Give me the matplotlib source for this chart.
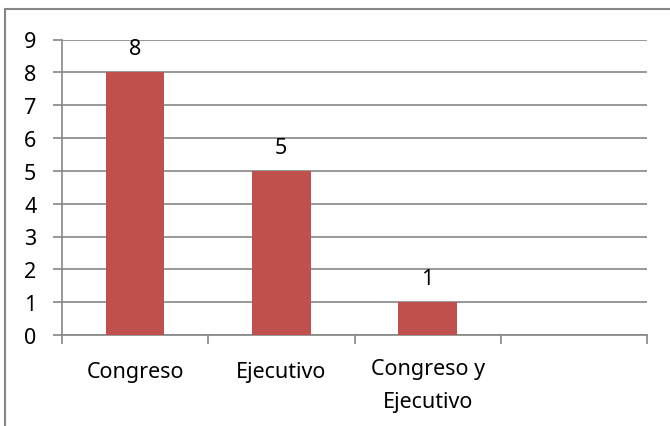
import numpy as np
import matplotlib
matplotlib.use('Agg')
import matplotlib.pyplot as plt
from matplotlib.patches import Rectangle

plt.rcParams['font.family'] = ['Noto Sans', 'DejaVu Sans']

categories = ['Congreso', 'Ejecutivo', 'Congreso y\nEjecutivo', '']
values = [8, 5, 1]
yticks = list(range(0, 10))

bar_color = '#C0504D'
grid_color = '#868686'

fig = plt.figure(figsize=(6.70, 4.27), dpi=100)
ax = fig.add_axes([62/670, 1 - 336/427, 585/670, (336 - 40.5)/427])

# outer chart border (cropped on right and bottom in the original)
fig.patches.append(Rectangle((5/670, -0.1), 1.2, 1.1 - 10/427, transform=fig.transFigure,
                             fill=False, edgecolor=grid_color, linewidth=1.5, zorder=0))

x = np.arange(len(values))
ax.bar(x, values, width=0.4, color=bar_color, zorder=3)
for xi, v in zip(x, values):
    ax.annotate(str(v), (xi, v), xytext=(0, 13), textcoords='offset points',
                ha='center', va='baseline', fontsize=15.5)

ax.set_xlim(-0.5, len(categories) - 0.5)
ax.set_ylim(0, 9)
ax.set_yticks(yticks)
ax.yaxis.grid(True, color=grid_color, linewidth=1.2, zorder=0)
ax.set_axisbelow(True)

# category labels centred between boundary ticks
ax.set_xticks(np.arange(len(categories) + 1) - 0.5)
ax.set_xticklabels([])
for xi, lab in enumerate(categories):
    lines = lab.split('\n')
    if len(lines) == 1:
        ax.text(xi, -1.28, lines[0], ha='center', va='baseline', fontsize=15.5)
    else:
        ax.text(xi, -1.2, lines[0], ha='center', va='baseline', fontsize=15.5)
        ax.text(xi, -2.2, lines[1], ha='center', va='baseline', fontsize=15.5)

for s in ['top', 'right']:
    ax.spines[s].set_visible(False)
ax.spines['left'].set_color(grid_color)
ax.spines['bottom'].set_color(grid_color)
ax.spines['left'].set_linewidth(1.2)
ax.spines['bottom'].set_linewidth(1.2)
ax.tick_params(axis='both', colors=grid_color, length=6.5, width=1.2, labelsize=15.5,
               labelcolor='black')
ax.tick_params(axis='y', pad=12)

fig.savefig('out.png', dpi=100)
